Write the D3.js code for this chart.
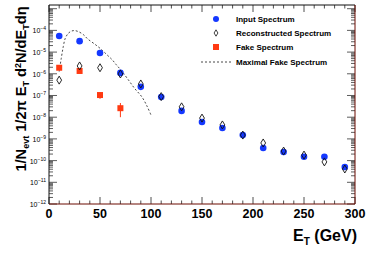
<!DOCTYPE html>
<html>
<head>
<meta charset="utf-8">
<script src="https://cdn.jsdelivr.net/npm/d3@7"></script>
<style>
  body { margin: 0; background: #fff; }
  svg { display: block; font-family: "Liberation Sans", Arial, sans-serif; }
</style>
</head>
<body>
<div id="chart"></div>
<script>
  let WIDTH = 374, HEIGHT = 253;
  let margin = {left: 49, right: 19, top: 5, bottom: 49};

  // transverse energy bins (GeV)
  let energies = [10, 30, 50, 70, 90, 110, 130, 150, 170, 190, 210, 230, 250, 270, 290];
  let inputSpectrum = [5.5e-5, 3.2e-5, 9.1e-6, 1.1e-6, 2.5e-7, 8.5e-8, 1.95e-8, 6.0e-9, 3.2e-9,
                       1.5e-9, 3.8e-10, 2.5e-10, 1.5e-10, 1.5e-10, 5.1e-11];
  let recoSpectrum = [5.1e-7, 2.3e-6, 1.9e-6, 9.8e-7, 3.4e-7, 8.9e-8, 3.0e-8, 9.1e-9, 4.4e-9,
                      1.5e-9, 6.5e-10, 2.75e-10, 1.8e-10, 8.7e-11, 4.1e-11];
  let fakeEnergies = [10, 30, 50, 70];
  let fakeSpectrum = [1.9e-6, 1.35e-6, 1.05e-7, 2.6e-8];
  let fakeLow = [1.6e-6, 1.15e-6, 7.0e-8, 1.0e-8];
  let fakeHigh = [2.2e-6, 1.55e-6, 1.25e-7, 4.5e-8];
  let maxFakeE = [10, 12, 14, 16, 19, 22, 25, 29, 34, 38, 45, 50, 57, 62, 66, 71, 78, 84, 91, 96, 100];
  let maxFakeSpectrum = [1.26e-6, 5.1e-6, 1.78e-5, 4.4e-5, 7.4e-5, 9.3e-5, 9.8e-5, 8.7e-5, 6.2e-5, 4.0e-5,
                         2.3e-5, 1.5e-5, 7.4e-6, 4.4e-6, 2.6e-6, 1.4e-6, 5.1e-7, 2.1e-7, 8.7e-8, 3.3e-8, 1.26e-8];
  let xTicks = [0, 50, 100, 150, 200, 250, 300];
  let yDecades = [-12, -11, -10, -9, -8, -7, -6, -5, -4];
  let legendLabels = ["Input Spectrum", "Reconstructed Spectrum", "Fake Spectrum", "Maximal Fake Spectrum"];

  let BLUE = "#1438ff", RED = "#ff3a12";

  let svg = d3.select("#chart").append("svg").attr("width", WIDTH).attr("height", HEIGHT);

  let x0 = margin.left, x1 = WIDTH - margin.right;
  let y0 = HEIGHT - margin.bottom, y1 = margin.top;

  let xScale = d3.scaleLinear().domain([0, 300]).range([x0, x1]);
  let yScale = d3.scaleLog().domain([1e-12, Math.pow(10, -2.83)]).range([y0, y1]);

  // minor / major ticks on the x axes (bottom and top, pointing inwards)
  let xMinor = d3.range(0, 301, 10);
  let axes = svg.append("g");
  xMinor.forEach(function(v) {
    let len = (v % 50 === 0) ? 7 : 3.5;
    axes.append("line").attr("x1", xScale(v)).attr("x2", xScale(v))
        .attr("y1", y0).attr("y2", y0 - len).attr("stroke", "#222").attr("stroke-width", 0.8);
    axes.append("line").attr("x1", xScale(v)).attr("x2", xScale(v))
        .attr("y1", y1).attr("y2", y1 + len).attr("stroke", "#222").attr("stroke-width", 0.8);
  });

  // log ticks on left and right axes
  let yTickVals = [];
  for (let e = -12; e <= -3; e++) {
    for (let m = 1; m <= 9; m++) {
      let v = m * Math.pow(10, e);
      if (v <= yScale.domain()[1]) yTickVals.push({v: v, major: m === 1});
    }
  }
  yTickVals.forEach(function(t) {
    let len = t.major ? 8 : 4;
    let yy = yScale(t.v);
    axes.append("line").attr("x1", x0).attr("x2", x0 + len)
        .attr("y1", yy).attr("y2", yy).attr("stroke", "#333").attr("stroke-width", 0.8);
    axes.append("line").attr("x1", x1).attr("x2", x1 - len)
        .attr("y1", yy).attr("y2", yy).attr("stroke", "#333").attr("stroke-width", 0.8);
  });

  // frame
  axes.append("line").attr("x1", x0).attr("x2", x1).attr("y1", y1).attr("y2", y1).attr("stroke", "#111");
  axes.append("line").attr("x1", x0).attr("x2", x0).attr("y1", y1).attr("y2", y0).attr("stroke", "#111");
  axes.append("line").attr("x1", x0).attr("x2", x1).attr("y1", y0).attr("y2", y0).attr("stroke", "#6b0a00");
  axes.append("line").attr("x1", x1).attr("x2", x1).attr("y1", y1).attr("y2", y0).attr("stroke", "#6b0a00");

  // x tick labels
  svg.selectAll(".xlab").data(xTicks).enter().append("text")
     .attr("x", function(d) {return xScale(d);})
     .attr("y", y0 + 14)
     .attr("text-anchor", "middle")
     .attr("font-size", 12.5).attr("font-weight", "bold")
     .text(function(d) {return d;});

  // y tick labels 10^n
  let ylab = svg.selectAll(".ylab").data(yDecades).enter().append("text")
     .attr("x", x0 - 3)
     .attr("y", function(d) {return yScale(Math.pow(10, d)) + 3;})
     .attr("text-anchor", "end")
     .attr("font-size", 7);
  ylab.append("tspan").text("10");
  ylab.append("tspan").attr("dy", -3).attr("font-size", 5).text(function(d) {return "\u2212" + (-d);});

  // axis titles
  let xt = svg.append("text").attr("x", x1 + 2).attr("y", 241)
     .attr("text-anchor", "end").attr("font-size", 16).attr("font-weight", "bold");
  xt.append("tspan").text("E");
  xt.append("tspan").attr("dy", 4).attr("font-size", 10).text("T");
  xt.append("tspan").attr("dy", -4).text(" (GeV)");

  let yt = svg.append("text").attr("transform", "translate(26," + 89 + ") rotate(-90)")
     .attr("text-anchor", "middle").attr("font-size", 14.6).attr("font-weight", "bold");
  yt.append("tspan").text("1/N");
  yt.append("tspan").attr("dy", 3).attr("font-size", 9).text("evt");
  yt.append("tspan").attr("dy", -3).text(" 1/2\u03c0 E");
  yt.append("tspan").attr("dy", 3).attr("font-size", 9).text("T");
  yt.append("tspan").attr("dy", -3).text(" d");
  yt.append("tspan").attr("dy", -5).attr("font-size", 9).text("2");
  yt.append("tspan").attr("dy", 5).text("N/dE");
  yt.append("tspan").attr("dy", 3).attr("font-size", 9).text("T");
  yt.append("tspan").attr("dy", -3).text("d\u03b7");

  // maximal fake spectrum
  let line = d3.line().x(function(d) {return xScale(d[0]);}).y(function(d) {return yScale(d[1]);})
               .curve(d3.curveCatmullRom);
  svg.append("path").datum(d3.zip(maxFakeE, maxFakeSpectrum))
     .attr("d", line).attr("fill", "none").attr("stroke", "#333")
     .attr("stroke-width", 0.9).attr("stroke-dasharray", "2,2");

  // fake spectrum with error bars
  let fake = d3.zip(fakeEnergies, fakeSpectrum, fakeLow, fakeHigh);
  svg.selectAll(".ferr").data(fake).enter().append("line")
     .attr("x1", function(d) {return xScale(d[0]);}).attr("x2", function(d) {return xScale(d[0]);})
     .attr("y1", function(d) {return yScale(d[2]);}).attr("y2", function(d) {return yScale(d[3]);})
     .attr("stroke", RED).attr("stroke-width", 1);
  svg.selectAll(".fake").data(fake).enter().append("rect")
     .attr("x", function(d) {return xScale(d[0]) - 3;}).attr("y", function(d) {return yScale(d[1]) - 3;})
     .attr("width", 6).attr("height", 6).attr("fill", RED);

  // input spectrum
  let input = d3.zip(energies, inputSpectrum);
  svg.selectAll(".inp").data(input).enter().append("circle")
     .attr("cx", function(d) {return xScale(d[0]);}).attr("cy", function(d) {return yScale(d[1]);})
     .attr("r", 3.3).attr("fill", BLUE);

  // reconstructed spectrum (open diamonds)
  let diamond = function(cx, cy, s) {
    s = s || 1;
    return "M" + cx + "," + (cy - 4 * s) + "L" + (cx + 2.4 * s) + "," + cy + "L" + cx + "," + (cy + 4 * s) +
           "L" + (cx - 2.4 * s) + "," + cy + "Z";
  };
  svg.selectAll(".reco").data(d3.zip(energies, recoSpectrum)).enter().append("path")
     .attr("d", function(d) {return diamond(xScale(d[0]), yScale(d[1]));})
     .attr("fill", "none").attr("stroke", "#111").attr("stroke-width", 0.9);

  // legend
  let legY = [19, 33, 47, 62];
  let leg = svg.append("g");
  leg.append("circle").attr("cx", 216).attr("cy", legY[0]).attr("r", 3).attr("fill", BLUE);
  leg.append("path").attr("d", diamond(216, legY[1], 0.8)).attr("fill", "none").attr("stroke", "#111").attr("stroke-width", 0.8);
  leg.append("rect").attr("x", 213).attr("y", legY[2] - 3).attr("width", 6).attr("height", 6).attr("fill", RED);
  leg.append("line").attr("x1", 201).attr("x2", 231).attr("y1", legY[3]).attr("y2", legY[3])
     .attr("stroke", "#333").attr("stroke-width", 0.9).attr("stroke-dasharray", "2,2");
  leg.selectAll("text").data(legendLabels).enter().append("text")
     .attr("x", 236).attr("y", function(d, i) {return legY[i] + 3;})
     .attr("font-size", 8).attr("font-weight", "bold")
     .text(function(d) {return d;});
</script>
</body>
</html>
